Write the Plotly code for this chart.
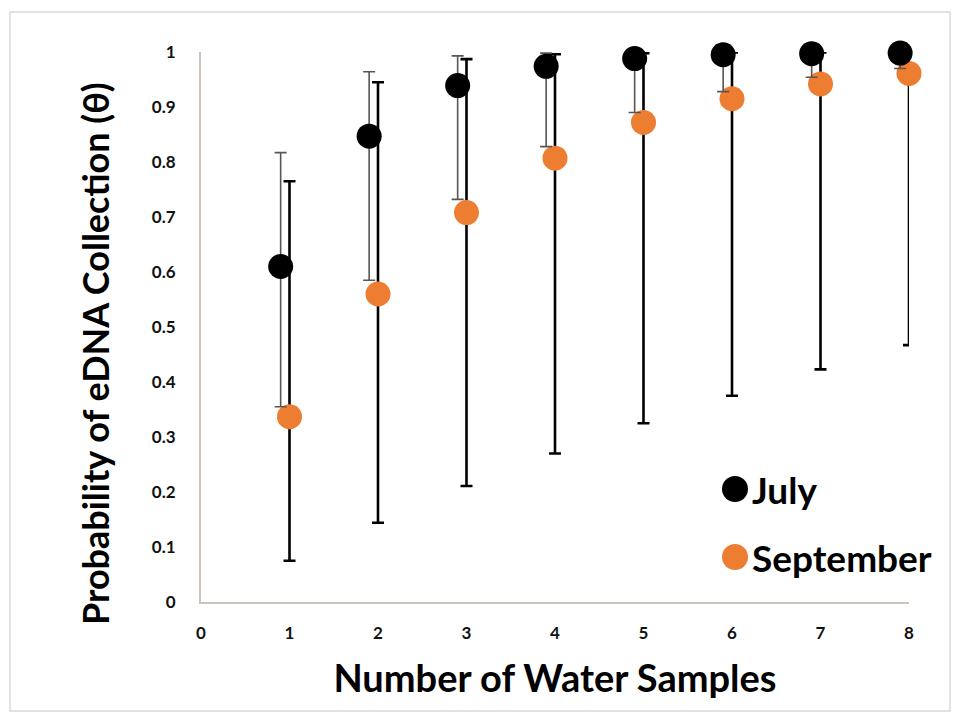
import plotly.graph_objects as go

samples = [1, 2, 3, 4, 5, 6, 7, 8]

july = [0.610, 0.847, 0.939, 0.974, 0.988, 0.995, 0.997, 0.998]
july_upper = [0.817, 0.964, 0.993, 0.998, 0.999, 0.999, 0.999, 0.999]
july_lower = [0.355, 0.585, 0.732, 0.828, 0.890, 0.928, 0.954, 0.970]

sept = [0.337, 0.560, 0.708, 0.807, 0.872, 0.915, 0.942, 0.961]
sept_upper = [0.765, 0.945, 0.987, 0.996, 0.998, 0.999, 0.999, 0.999]
sept_lower = [0.075, 0.144, 0.211, 0.270, 0.325, 0.375, 0.423, 0.467]

y_ticks = [0, 0.1, 0.2, 0.3, 0.4, 0.5, 0.6, 0.7, 0.8, 0.9, 1]
y_ticktext = ["0", "0.1", "0.2", "0.3", "0.4", "0.5", "0.6", "0.7", "0.8", "0.9", "1"]
x_ticks = [0, 1, 2, 3, 4, 5, 6, 7, 8]

legend_names = ["July", "September"]
colors = {"July": "#000000", "September": "#ED7D31"}

july_plus = [u - v for u, v in zip(july_upper, july)]
july_minus = [v - l for v, l in zip(july, july_lower)]
sept_plus = [u - v for u, v in zip(sept_upper, sept)]
sept_minus = [v - l for v, l in zip(sept, sept_lower)]

fig = go.Figure()
fig.add_trace(go.Scatter(
    x=samples, y=july, mode="markers", name="July", xaxis="x2",
    marker=dict(size=25, color=colors["July"]),
    error_y=dict(type="data", symmetric=False, array=july_plus, arrayminus=july_minus,
                 color="#5a5550", thickness=1.6, width=6),
    cliponaxis=False, showlegend=False,
))
fig.add_trace(go.Scatter(
    x=samples, y=sept, mode="markers", name="September",
    marker=dict(size=25, color=colors["September"]),
    error_y=dict(type="data", symmetric=False, array=sept_plus, arrayminus=sept_minus,
                 color="#000000", thickness=2.6, width=6),
    cliponaxis=False, showlegend=False,
))

tickfont = dict(family="Lato", size=17, color="#111111", weight="bold")
titlefont = dict(family="Lato", size=38, color="#000000", weight="bold")

fig.update_layout(
    width=961, height=724,
    margin=dict(l=201, r=52, t=52, b=122),
    paper_bgcolor="white", plot_bgcolor="white",
    xaxis=dict(range=[0, 8], tickvals=x_ticks, showgrid=False, zeroline=False,
               showline=True, linecolor="#cbc3bc", linewidth=2, ticks="",
               tickfont=tickfont, ticklabelstandoff=15,
               title=dict(text="Number of Water Samples", font=titlefont, standoff=23)),
    xaxis2=dict(range=[0.1, 8.1], overlaying="x", visible=False),
    yaxis=dict(range=[0, 1], tickvals=y_ticks, ticktext=y_ticktext, showgrid=False,
               zeroline=False, showline=True, linecolor="#cbc3bc", linewidth=2, ticks="",
               tickfont=tickfont, ticklabelstandoff=20),
    font=dict(family="Lato"),
)

# y-axis title (placed as in the reference, slightly below the plot's centre)
fig.add_annotation(text="Probability of eDNA Collection (θ)", xref="paper", yref="paper",
                   x=(95 - 201) / 708, y=(602 - 354) / 550, textangle=-90,
                   xanchor="center", yanchor="middle", showarrow=False,
                   font=dict(family="Lato", size=36, color="#000000", weight="bold"))

# legend (drawn as annotations + circles to match the reference marker size)
legend_y = [(602 - 489) / 550, (602 - 557) / 550]
for name, ly in zip(legend_names, legend_y):
    fig.add_shape(type="circle", xref="paper", yref="paper",
                  x0=(722 - 201) / 708, x1=(748 - 201) / 708,
                  y0=ly - 13 / 550, y1=ly + 13 / 550,
                  fillcolor=colors[name], line=dict(width=0))
    fig.add_annotation(text=name, xref="paper", yref="paper", x=(750 - 201) / 708, y=ly,
                       xanchor="left", yanchor="middle", showarrow=False,
                       font=dict(family="Lato", size=37, color="#000000", weight="bold"))

# chart border
fig.add_shape(type="rect", xref="paper", yref="paper",
              x0=(10 - 201) / 708, x1=(950 - 201) / 708,
              y0=(602 - 711) / 550, y1=(602 - 12) / 550,
              line=dict(color="#d9d9d9", width=1.5), layer="below")

fig.write_html("out.html")
